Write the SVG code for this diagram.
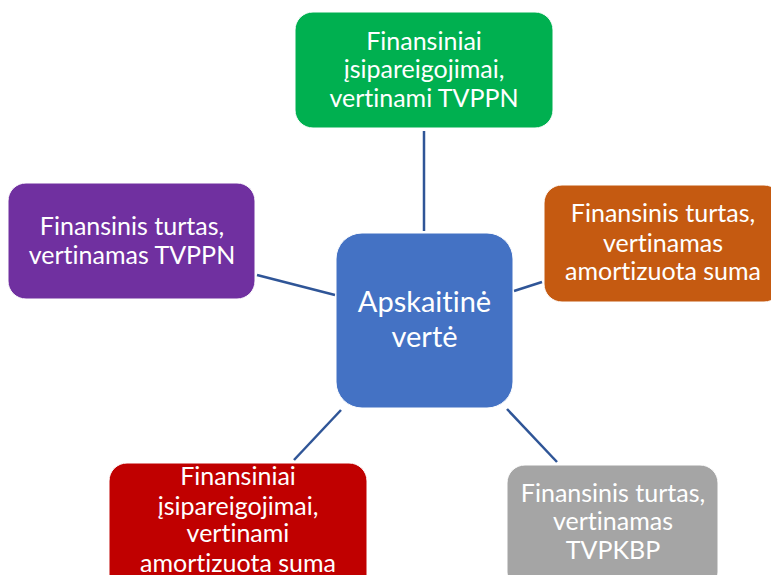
<svg xmlns="http://www.w3.org/2000/svg" width="771" height="575" viewBox="0 0 771 575">
<style>
.t{font-family:Lato,"Open Sans","Liberation Sans",sans-serif;font-size:25px;fill:#fff;text-anchor:middle;font-variant-ligatures:none;font-feature-settings:"liga" 0,"clig" 0}
.c{font-size:29px}
.n{stroke:#fff;stroke-width:1}
.l{stroke:#2F5597;stroke-width:2.5;fill:none}
</style>
<rect width="771" height="575" fill="#fff"/>
<g id="connectors">
<line class="l" x1="424" y1="131" x2="424" y2="231"/>
<line class="l" x1="514" y1="291" x2="542" y2="282"/>
<line class="l" x1="257" y1="275" x2="335" y2="295"/>
<line class="l" x1="341" y1="410" x2="294" y2="460"/>
<line class="l" x1="507" y1="409" x2="557" y2="462"/>
</g>
<g id="center">
<rect class="n" x="336" y="233" width="177" height="175" rx="26" fill="#4472C4"/>
<text class="t c" x="424.5"><tspan x="424.5" y="312">Apskaitinė</tspan><tspan x="424.5" y="347">vertė</tspan></text>
</g>
<g id="green">
<rect class="n" x="295" y="12" width="258" height="116" rx="18" fill="#00B050"/>
<text class="t"><tspan x="424" y="50">Finansiniai</tspan><tspan x="424" y="78">įsipareigojimai,</tspan><tspan x="424" y="107">vertinami TVPPN</tspan></text>
</g>
<g id="orange">
<rect class="n" x="544" y="185" width="238" height="117" rx="18" fill="#C55A11"/>
<text class="t"><tspan x="663" y="222">Finansinis turtas,</tspan><tspan x="663" y="252">vertinamas</tspan><tspan x="663" y="280">amortizuota suma</tspan></text>
</g>
<g id="purple">
<rect class="n" x="8" y="183" width="247" height="116" rx="18" fill="#7030A0"/>
<text class="t"><tspan x="132" y="235">Finansinis turtas,</tspan><tspan x="132" y="264">vertinamas TVPPN</tspan></text>
</g>
<g id="red">
<rect class="n" x="109" y="463" width="258" height="130" rx="18" fill="#C00000"/>
<text class="t"><tspan x="238" y="485">Finansiniai</tspan><tspan x="238" y="515">įsipareigojimai,</tspan><tspan x="238" y="542">vertinami</tspan><tspan x="238" y="572">amortizuota suma</tspan></text>
</g>
<g id="gray">
<rect class="n" x="507" y="465" width="211" height="125" rx="18" fill="#A5A5A5"/>
<text class="t"><tspan x="613" y="502">Finansinis turtas,</tspan><tspan x="613" y="530">vertinamas</tspan><tspan x="613" y="559">TVPKBP</tspan></text>
</g>
</svg>
